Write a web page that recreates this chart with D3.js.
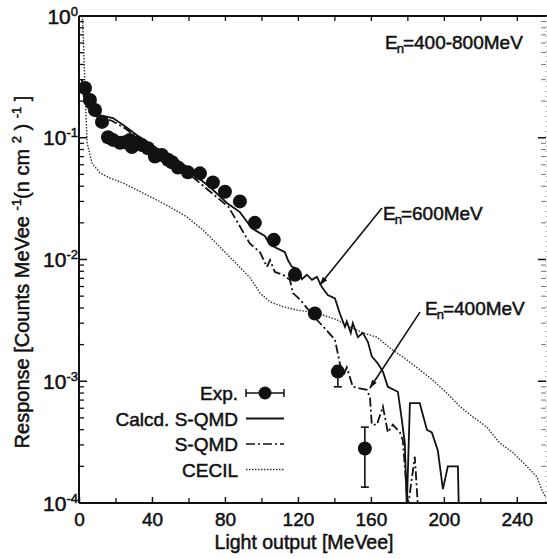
<!DOCTYPE html>
<html>
<head>
<meta charset="utf-8">
<script src="https://cdn.jsdelivr.net/npm/d3@7"></script>
<style>
  body { margin: 0; background: #fff; }
  text { font-family: "Liberation Sans", Arial, sans-serif; fill: #111; stroke: #111; stroke-width: 0.5px; }
</style>
</head>
<body>
<script>
// experimental points (light output MeVee, response)
const expX = [3.3, 6.0, 8.8, 12.6, 15.9, 18.6, 22.5, 25.2, 27.9, 29.0, 31.8, 34.5, 37.8, 41.6, 45.5, 48.8, 51.0, 54.2, 59.7, 66.3, 73.4, 80.0, 88.2, 96.4, 106.8, 118.4, 129.3, 141.9, 156.7];
const expY = [0.256, 0.204, 0.169, 0.135, 0.101, 0.096, 0.091, 0.092, 0.096, 0.084, 0.091, 0.087, 0.082, 0.070, 0.072, 0.066, 0.063, 0.057, 0.052, 0.051, 0.043, 0.036, 0.030, 0.020, 0.0145, 0.0075, 0.0036, 0.0012, 0.00028];
const errLo = [null, null, null, null, null, null, null, null, null, null, null, null, null, null, null, null, null, null, null, null, null, null, null, null, null, null, null, 0.00090, 0.000135];
const errHi = [null, null, null, null, null, null, null, null, null, null, null, null, null, null, null, null, null, null, null, null, null, null, null, null, null, null, null, 0.00133, 0.00042];

// Calcd. S-QMD (En=600MeV), solid
const qmdX = [1.5, 3, 6, 10, 18.6, 25, 31.8, 42.7, 49.9, 59.2, 64.7, 71.8, 81.1, 88.2, 94.8, 101.9, 104.7, 112.9, 114.5, 116.7, 120, 122.2, 124.9, 127.7, 130.4, 133.2, 136.4, 140.3, 143, 145.8, 146.8, 149, 150.1, 152.9, 155.6, 158.4, 160.5, 163.8, 166.6, 169.3, 174.8, 177, 178.6, 179.7, 181.4, 186.8, 190.7, 193.4, 196.7, 199.5, 202.2, 207.7, 208.2];
const qmdY = [0.3, 0.21, 0.169, 0.155, 0.145, 0.125, 0.105, 0.082, 0.072, 0.0575, 0.0476, 0.0394, 0.0291, 0.0245, 0.018, 0.0156, 0.0132, 0.0115, 0.0099, 0.0087, 0.0084, 0.0069, 0.0075, 0.0068, 0.0072, 0.0059, 0.0051, 0.0048, 0.0036, 0.0028, 0.0031, 0.0025, 0.0030, 0.0023, 0.0025, 0.0021, 0.0016, 0.0014, 0.0012, 0.0009, 0.00082, 0.00048, 0.00031, 0, 0.00066, 0.00066, 0.0004, 0.00038, 0.00027, 0.00013, 0.0002, 0.0002, 0];

// S-QMD (En=400MeV), dash-dot
const sqmdX = [1.5, 3, 6, 10, 18, 25, 32, 43, 50, 62, 72, 82, 93.7, 99.2, 103, 104.7, 107.4, 111.8, 115.6, 117.3, 121.1, 125.5, 130.4, 135.9, 140.3, 143, 144.7, 146.8, 150.1, 157.8, 159.5, 160.5, 163.3, 166.6, 169.3, 172, 175.9, 177.5, 180.3, 184.1, 185.8];
const sqmdY = [0.28, 0.2, 0.16, 0.148, 0.138, 0.12, 0.1, 0.079, 0.069, 0.048, 0.036, 0.027, 0.0135, 0.0115, 0.0087, 0.0099, 0.0079, 0.0075, 0.0068, 0.0053, 0.0047, 0.0039, 0.0032, 0.0026, 0.0022, 0.0014, 0.0011, 0.0013, 0.0009, 0.00085, 0.00074, 0.00044, 0.00044, 0.00062, 0.00038, 0.00044, 0.00038, 0.00033, 0, 0.00024, 0];

// CECIL, dotted
const cecilX = [1.8, 2.5, 3.5, 4.5, 7.1, 11.5, 17, 24.1, 31.8, 40.5, 49.9, 59.2, 67.9, 73.4, 80, 87, 93.7, 99.2, 104.7, 111.8, 119.5, 126.6, 133.7, 141.4, 148.5, 155.6, 163.3, 172, 179.7, 186.8, 194, 201.6, 208.8, 215.9, 223.6, 230.7, 237.8, 245.5, 251, 253.7, 256];
const cecilY = [1.2, 0.6, 0.2, 0.09, 0.062, 0.0513, 0.0467, 0.0425, 0.0372, 0.032, 0.027, 0.0223, 0.0175, 0.0145, 0.0115, 0.009, 0.0071, 0.0053, 0.0045, 0.0041, 0.00385, 0.0037, 0.0035, 0.0032, 0.0028, 0.0025, 0.0023, 0.0018, 0.0015, 0.00124, 0.00102, 0.0008, 0.00062, 0.00051, 0.00042, 0.00031, 0.00026, 0.0002, 0.000164, 0.000128, 0.00011];

const xTicks = [0, 40, 80, 120, 160, 200, 240];
const xMinor = [20, 60, 100, 140, 180, 220];
const yDecades = [0, -1, -2, -3, -4];
const legendLabels = ["Exp.", "Calcd. S-QMD", "S-QMD", "CECIL"];

const W = 547, H = 559;
const pLeft = 79, pRight = 546, pTop = 16, pBottom = 503;

const svg = d3.select("body").append("svg")
  .attr("width", W).attr("height", H);

const x = d3.scaleLinear().domain([0, 256]).range([pLeft, pRight]);
const y = d3.scaleLog().domain([1e-4, 1]).range([pBottom, pTop]).clamp(true);
const yv = v => v > 0 ? y(v) : y(1e-4) + 4;

const defs = svg.append("defs");
defs.append("clipPath").attr("id", "plot")
  .append("rect").attr("x", pLeft).attr("y", pTop)
  .attr("width", pRight - pLeft).attr("height", pBottom - pTop);

defs.append("marker")
  .attr("id", "arrow").attr("viewBox", "0 0 10 10")
  .attr("refX", 9).attr("refY", 5)
  .attr("markerWidth", 11).attr("markerHeight", 9)
  .attr("markerUnits", "userSpaceOnUse")
  .attr("orient", "auto")
  .append("path").attr("d", "M0,2 L10,5 L0,8 Z").attr("fill", "#111");

// minor y ticks
const yMinor = [];
yDecades.slice(1).forEach(d => {
  for (let k = 2; k <= 9; k++) yMinor.push(k * Math.pow(10, d));
});

// frame
const frame = svg.append("g").attr("stroke", "#111").attr("fill", "none");
frame.append("line").attr("x1", pLeft).attr("x2", pLeft).attr("y1", pTop).attr("y2", pBottom).attr("stroke-width", 2);
frame.append("line").attr("x1", pLeft).attr("x2", pRight + 1).attr("y1", pBottom).attr("y2", pBottom).attr("stroke-width", 2);
frame.append("line").attr("x1", pLeft).attr("x2", pRight + 1).attr("y1", pTop).attr("y2", pTop).attr("stroke-width", 1.8);
frame.append("line").attr("x1", pRight).attr("x2", pRight).attr("y1", pTop).attr("y2", pBottom)
  .attr("stroke-width", 1).attr("stroke", "#888").attr("stroke-dasharray", "1,4");

// bottom axis
const xAxis = svg.append("g").attr("transform", `translate(0,${pBottom})`)
  .call(d3.axisBottom(x).tickValues(xTicks).tickSize(-6).tickPadding(10).tickFormat(d3.format("d")));
xAxis.select(".domain").remove();
xAxis.selectAll("line").attr("stroke", "#111").attr("stroke-width", 1.5);
xAxis.selectAll("text").attr("font-size", 19).attr("fill", "#111").attr("font-family", null);

const xAxisMinor = svg.append("g").attr("transform", `translate(0,${pBottom})`)
  .call(d3.axisBottom(x).tickValues(xMinor).tickSize(-5).tickFormat(""));
xAxisMinor.select(".domain").remove();
xAxisMinor.selectAll("line").attr("stroke", "#111").attr("stroke-width", 1.3);

// top axis
const xTop = svg.append("g").attr("transform", `translate(0,${pTop})`)
  .call(d3.axisTop(x).tickValues(xTicks.concat(xMinor).filter(d => d > 0)).tickSize(-5).tickFormat(""));
xTop.select(".domain").remove();
xTop.selectAll("line").attr("stroke", "#111").attr("stroke-width", 1.3);

// left and right ticks
const majorVals = yDecades.map(d => Math.pow(10, d));
[[pLeft, 1], [pRight, -1]].forEach(([px, dir]) => {
  const g = svg.append("g").attr("stroke", "#111");
  g.selectAll(".mj").data(majorVals).join("line")
    .attr("x1", px).attr("x2", px + dir * 8)
    .attr("y1", d => y(d)).attr("y2", d => y(d)).attr("stroke-width", 1.5);
  g.selectAll(".mn").data(yMinor).join("line")
    .attr("x1", px).attr("x2", px + dir * 5)
    .attr("y1", d => y(d)).attr("y2", d => y(d))
    .attr("stroke-width", dir > 0 ? 1.3 : 1).attr("stroke", dir > 0 ? "#111" : "#777");
});

// y tick labels 10^n
const yLab = svg.append("g");
yDecades.forEach(d => {
  const t = yLab.append("text").attr("x", pLeft - 1).attr("y", y(Math.pow(10, d)) + 7.5)
    .attr("text-anchor", "end").attr("font-size", 21);
  t.append("tspan").text("10");
  t.append("tspan").attr("font-size", 13).attr("dy", -8).text(d === 0 ? "0" : "-" + (-d));
});

// axis titles
svg.append("text").attr("x", 304).attr("y", 549).attr("text-anchor", "middle")
  .attr("font-size", 19.5).text("Light output [MeVee]");

const yt = svg.append("text")
  .attr("transform", "translate(29,272) rotate(-90)")
  .attr("text-anchor", "middle").attr("font-size", 20);
yt.append("tspan").text("Response [Counts MeVee ");
yt.append("tspan").attr("font-size", 13).attr("dy", -8).text("-1");
yt.append("tspan").attr("dy", 8).text("(n cm ");
yt.append("tspan").attr("font-size", 13).attr("dy", -8).text("2");
yt.append("tspan").attr("dy", 8).text(" ) ");
yt.append("tspan").attr("font-size", 13).attr("dy", -8).text("-1");
yt.append("tspan").attr("dy", 8).text(" ]");

// curves
const plot = svg.append("g").attr("clip-path", "url(#plot)");
const line = d3.line().x(d => x(d[0])).y(d => yv(d[1]));

plot.append("path").datum(cecilX.map((v, i) => [v, cecilY[i]]))
  .attr("d", line).attr("fill", "none").attr("stroke", "#333")
  .attr("stroke-width", 1.4).attr("stroke-dasharray", "1.5,1.5");

plot.append("path").datum(sqmdX.map((v, i) => [v, sqmdY[i]]))
  .attr("d", line).attr("fill", "none").attr("stroke", "#111")
  .attr("stroke-width", 1.8).attr("stroke-dasharray", "9,3,2,3");

plot.append("path").datum(qmdX.map((v, i) => [v, qmdY[i]]))
  .attr("d", line).attr("fill", "none").attr("stroke", "#111")
  .attr("stroke-width", 1.8);

// experimental points
const exp = expX.map((v, i) => ({x: v, y: expY[i], lo: errLo[i], hi: errHi[i]}));
const eb = exp.filter(d => d.lo !== null);
plot.selectAll(".eb").data(eb).join("line")
  .attr("x1", d => x(d.x)).attr("x2", d => x(d.x))
  .attr("y1", d => y(d.lo)).attr("y2", d => y(d.hi))
  .attr("stroke", "#111").attr("stroke-width", 1.6);
plot.selectAll(".cap").data(eb.flatMap(d => [[d.x, d.lo], [d.x, d.hi]])).join("line")
  .attr("x1", d => x(d[0]) - 4).attr("x2", d => x(d[0]) + 4)
  .attr("y1", d => y(d[1])).attr("y2", d => y(d[1]))
  .attr("stroke", "#111").attr("stroke-width", 1.6);
plot.selectAll(".dot").data(exp).join("circle")
  .attr("cx", d => x(d.x)).attr("cy", d => y(d.y)).attr("r", 7)
  .attr("fill", "#111");

// annotations
const notes = [
  {label: "=400-800MeV", tx: 385, ty: 49},
  {label: "=600MeV", tx: 383, ty: 220, from: [166.1, 0.0265], to: [132.1, 0.0062]},
  {label: "=400MeV", tx: 425, ty: 315, from: [186.9, 0.0037], to: [159.5, 0.00088]}
];
notes.forEach(n => {
  const t = svg.append("text").attr("x", n.tx).attr("y", n.ty).attr("font-size", 19);
  t.append("tspan").text("E");
  t.append("tspan").attr("font-size", 13).attr("dy", 4).attr("dx", -1).text("n");
  t.append("tspan").attr("dy", -4).attr("dx", -1).text(n.label);
  if (n.from) {
    svg.append("line")
      .attr("x1", x(n.from[0])).attr("y1", y(n.from[1]))
      .attr("x2", x(n.to[0])).attr("y2", y(n.to[1]))
      .attr("stroke", "#111").attr("stroke-width", 1.6)
      .attr("marker-end", "url(#arrow)");
  }
});

// legend
const lg = svg.append("g");
legendLabels.forEach((name, i) => {
  const cy = 393 + i * 25.5;
  lg.append("text").attr("x", 238).attr("y", cy + 7)
    .attr("text-anchor", "end").attr("font-size", 19).text(name);
  const s = lg.append("line").attr("x1", 246).attr("x2", 284)
    .attr("y1", cy).attr("y2", cy).attr("stroke", "#111");
  if (i === 0) {
    s.attr("stroke-width", 1.5);
    [246, 284].forEach(cx => lg.append("line").attr("x1", cx).attr("x2", cx)
      .attr("y1", cy - 4).attr("y2", cy + 4).attr("stroke", "#111").attr("stroke-width", 1.5));
    lg.append("circle").attr("cx", 265).attr("cy", cy).attr("r", 6.5).attr("fill", "#111");
  } else if (i === 1) {
    s.attr("stroke-width", 1.8);
  } else if (i === 2) {
    s.attr("stroke-width", 1.6).attr("stroke-dasharray", "9,3,2,3");
  } else {
    s.attr("stroke-width", 1.4).attr("stroke", "#333").attr("stroke-dasharray", "1.5,1.5");
  }
});
</script>
</body>
</html>
